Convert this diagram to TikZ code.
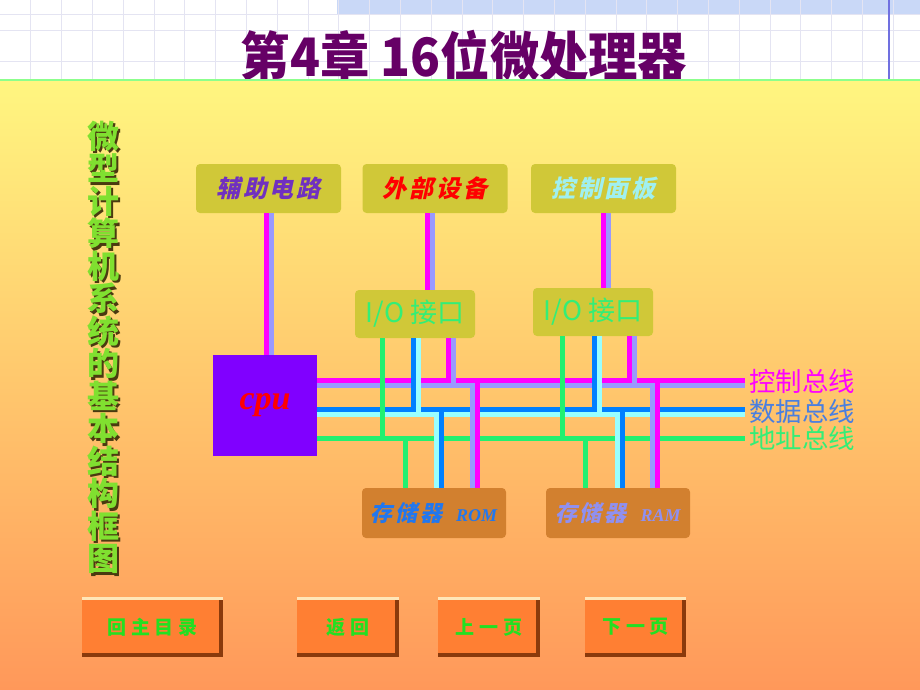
\documentclass[tikz,border=0pt]{standalone}
\usepackage{fontspec}
\setmainfont{Liberation Serif}
\newfontfamily\cjk{Noto Sans CJK SC}
\newfontfamily\cjkit{Noto Sans CJK SC}[FakeSlant=0.22,LetterSpace=12]
\newfontfamily\cjktitle{Noto Sans CJK SC}[FakeStretch=0.93]
\newfontfamily\cjkbtn{Noto Sans CJK SC}[LetterSpace=25]
\usepackage{tikz}
\usetikzlibrary{positioning,calc}

\definecolor{titlec}{HTML}{660066}
\definecolor{gridc}{HTML}{E4E4F2}
\definecolor{bandc}{HTML}{C9D8F7}
\definecolor{vlinec}{HTML}{7070E0}
\definecolor{bgtop}{HTML}{FFF680}
\definecolor{bgmid}{HTML}{FFC46E}
\definecolor{bgbot}{HTML}{FF985A}
\definecolor{boxolive}{HTML}{D0C838}
\definecolor{memorange}{HTML}{D2802F}
\definecolor{cpuviolet}{HTML}{8000FF}
\definecolor{busmag}{HTML}{FF00FF}
\definecolor{buslav}{HTML}{9999FF}
\definecolor{busblue}{HTML}{0080FF}
\definecolor{buscyan}{HTML}{99FFFF}
\definecolor{busgreen}{HTML}{22F070}
\definecolor{iogreen}{HTML}{33EE77}
\definecolor{datalbl}{HTML}{4A7FE0}
\definecolor{romtext}{HTML}{2277EE}
\definecolor{ramtext}{HTML}{9090F0}
\definecolor{auxtext}{HTML}{7030C0}
\definecolor{pantext}{HTML}{A0F0F0}
\definecolor{vertgreen}{HTML}{80E030}
\definecolor{vertshadow}{HTML}{4A3A10}
\definecolor{btnorange}{HTML}{FF7F33}
\definecolor{btngreen}{HTML}{22E022}
\definecolor{bevlite}{HTML}{FFE6B8}
\definecolor{bevdark}{HTML}{8A3A0C}

\tikzset{
  topbox/.style={fill=boxolive,rounded corners=2pt,minimum width=72.5pt,minimum height=24.5pt,inner sep=0pt,font=\cjkit\bfseries\fontsize{12}{12}\selectfont},
  iobox/.style={fill=boxolive,rounded corners=2pt,minimum width=60pt,minimum height=24pt,inner sep=0pt,text=iogreen,font=\cjk\fontsize{13.5}{13.5}\selectfont},
  membox/.style={fill=memorange,rounded corners=2pt,minimum width=72pt,minimum height=25pt,inner sep=0pt},
  buslabel/.style={anchor=west,inner sep=1pt,font=\cjk\fontsize{13.2}{13.2}\selectfont},
  btn/.style={fill=btnorange,minimum height=30pt,inner sep=0pt,text=btngreen,font=\cjkbtn\bfseries\fontsize{9.5}{9.5}\selectfont},
  vert/.style={align=center,inner sep=0pt,font=\cjk\bfseries\fontsize{16}{16.25}\selectfont},
  mag/.style={draw=busmag,line width=2.5pt},
  lav/.style={draw=buslav,line width=2.5pt},
  blu/.style={draw=busblue,line width=2.5pt},
  cya/.style={draw=buscyan,line width=2.5pt},
  grn/.style={draw=busgreen,line width=2.5pt},
}

\begin{document}
\begin{tikzpicture}[x=0.5pt,y=-0.5pt]
	\useasboundingbox (0,0) rectangle (920,690);
	% header with faint grid
	\fill[white] (0,0) rectangle (920,80);
	\fill[bandc] (337,0) rectangle (920,15);
	\foreach \x in {30.8,61.6,...,920} \draw[gridc,line width=0.5pt] (\x,0) -- (\x,80);
	\foreach \y in {15,31,62} \draw[gridc,line width=0.5pt] (0,\y) -- (920,\y);
	\draw[vlinec,line width=0.6pt] (889,0) -- (889,80);
	\node[text=titlec,font=\cjktitle\bfseries\fontsize{26.5}{26.5}\selectfont] (t) at (464,56) {第4章 16位微处理器};
	% main panel
	\fill[top color=bgtop,middle color=bgmid,bottom color=bgbot] (0,80) rectangle (920,690);
	\draw[green!45,line width=1pt] (0,80) -- (920,80);

	% vertical title
	\node[vert,text=vertshadow] (ls) at (105.5,350) {微\\型\\计\\算\\机\\系\\统\\的\\基\\本\\结\\构\\框\\图};
	\node[vert,text=vertgreen] (l) at (103,347.5) {微\\型\\计\\算\\机\\系\\统\\的\\基\\本\\结\\构\\框\\图};

	% boxes
	\node[topbox,text=auxtext] (1) at (268.5,188.5) {辅助电路};
	\node[topbox,text=red] (2) at (435,188.5) {外部设备};
	\node[topbox,text=pantext] (3) at (603.5,188.5) {控制面板};
	\node[iobox] (4) at (415,314) {I/O 接口};
	\node[iobox] (5) at (593,312) {I/O 接口};
	\node[fill=cpuviolet,minimum width=52pt,minimum height=50.5pt,inner sep=0pt,text=red,font=\bfseries\itshape\fontsize{17}{17}\selectfont] (6) at (265,405.5) {cpu};
	\node[membox] (7) at (434,513) {\textcolor{romtext}{\cjkit\bfseries\fontsize{11}{11}\selectfont 存储器}\hspace{7pt}\textcolor{romtext}{\bfseries\itshape\fontsize{9}{9}\selectfont ROM}};
	\node[membox] (8) at (618,513) {\textcolor{ramtext}{\cjkit\bfseries\fontsize{11}{11}\selectfont 存储器}\hspace{7pt}\textcolor{ramtext}{\bfseries\itshape\fontsize{9}{9}\selectfont RAM}};

	% bus ends and labels
	\coordinate (cm) at (745,380);
	\coordinate (cl) at (745,385);
	\coordinate (db) at (745,409);
	\coordinate (dc) at (745,414);
	\coordinate (ag) at (745,438);
	\node[buslabel,text=busmag] (9) at (747,381) {控制总线};
	\node[buslabel,text=datalbl] (10) at (747,411) {数据总线};
	\node[buslabel,text=iogreen] (11) at (747,438) {地址总线};

	% columns of the drops
	\foreach \n/\x in {k1/266,k2/271,e1/427.5,e2/432.5,p1/603.5,p2/608.5,
		g4/382,b4/413,c4/418,m4/448,l4/453,
		g7/405,c7/436.5,b7/441.5,l7/472,m7/477,
		g5/562,b5/594,c5/599,m5/629,l5/634,
		g8/585.5,c8/617.5,b8/622.5,l8/652.5,m8/657.5}
		\coordinate (\n) at (\x,0);

	% buses
	\draw[mag] (6.east |- cm) -- (cm);
	\draw[lav] (6.east |- cl) -- (cl);
	\draw[blu] (6.east |- db) -- (db);
	\draw[cya] (6.east |- dc) -- (dc);
	\draw[grn] (6.east |- ag) -- (ag);

	% upper links
	\draw[mag] (k1 |- 1.south) -- (k1 |- 6.north);
	\draw[lav] (k2 |- 1.south) -- (k2 |- 6.north);
	\draw[mag] (e1 |- 2.south) -- (e1 |- 4.north);
	\draw[lav] (e2 |- 2.south) -- (e2 |- 4.north);
	\draw[mag] (p1 |- 3.south) -- (p1 |- 5.north);
	\draw[lav] (p2 |- 3.south) -- (p2 |- 5.north);

	% I/O to buses
	\draw[grn] (g4 |- 4.south) -- (g4 |- ag);
	\draw[blu] (b4 |- 4.south) -- (b4 |- db);
	\draw[cya] (c4 |- 4.south) -- (c4 |- dc);
	\draw[mag] (m4 |- 4.south) -- (m4 |- cm);
	\draw[lav] (l4 |- 4.south) -- (l4 |- cl);
	\draw[grn] (g5 |- 5.south) -- (g5 |- ag);
	\draw[blu] (b5 |- 5.south) -- (b5 |- db);
	\draw[cya] (c5 |- 5.south) -- (c5 |- dc);
	\draw[mag] (m5 |- 5.south) -- (m5 |- cm);
	\draw[lav] (l5 |- 5.south) -- (l5 |- cl);

	% buses to memories
	\draw[grn] (g7 |- ag) -- (g7 |- 7.north);
	\draw[cya] (c7 |- dc) -- (c7 |- 7.north);
	\draw[blu] (b7 |- db) -- (b7 |- 7.north);
	\draw[lav] (l7 |- cl) -- (l7 |- 7.north);
	\draw[mag] (m7 |- cm) -- (m7 |- 7.north);
	\draw[grn] (g8 |- ag) -- (g8 |- 8.north);
	\draw[cya] (c8 |- dc) -- (c8 |- 8.north);
	\draw[blu] (b8 |- db) -- (b8 |- 8.north);
	\draw[lav] (l8 |- cl) -- (l8 |- 8.north);
	\draw[mag] (m8 |- cm) -- (m8 |- 8.north);

	% buttons
	\node[btn,minimum width=70.5pt] (12) at (152.5,627) {回主目录};
	\node[btn,minimum width=51pt] (13) at (348,627) {返回};
	\node[btn,minimum width=51pt] (14) at (489,627) {上一页};
	\node[btn,minimum width=50.5pt] (15) at (635.5,627) {下一页};
	\foreach \b in {12,13,14,15}{
		\fill[bevlite] (\b.north west) rectangle ($(\b.north east)+(0,3)$);
		\fill[bevdark] ($(\b.north east)+(-4,3)$) rectangle (\b.south east);
		\fill[bevdark] ($(\b.south west)+(0,-4)$) rectangle (\b.south east);
	}
\end{tikzpicture}
\end{document}
